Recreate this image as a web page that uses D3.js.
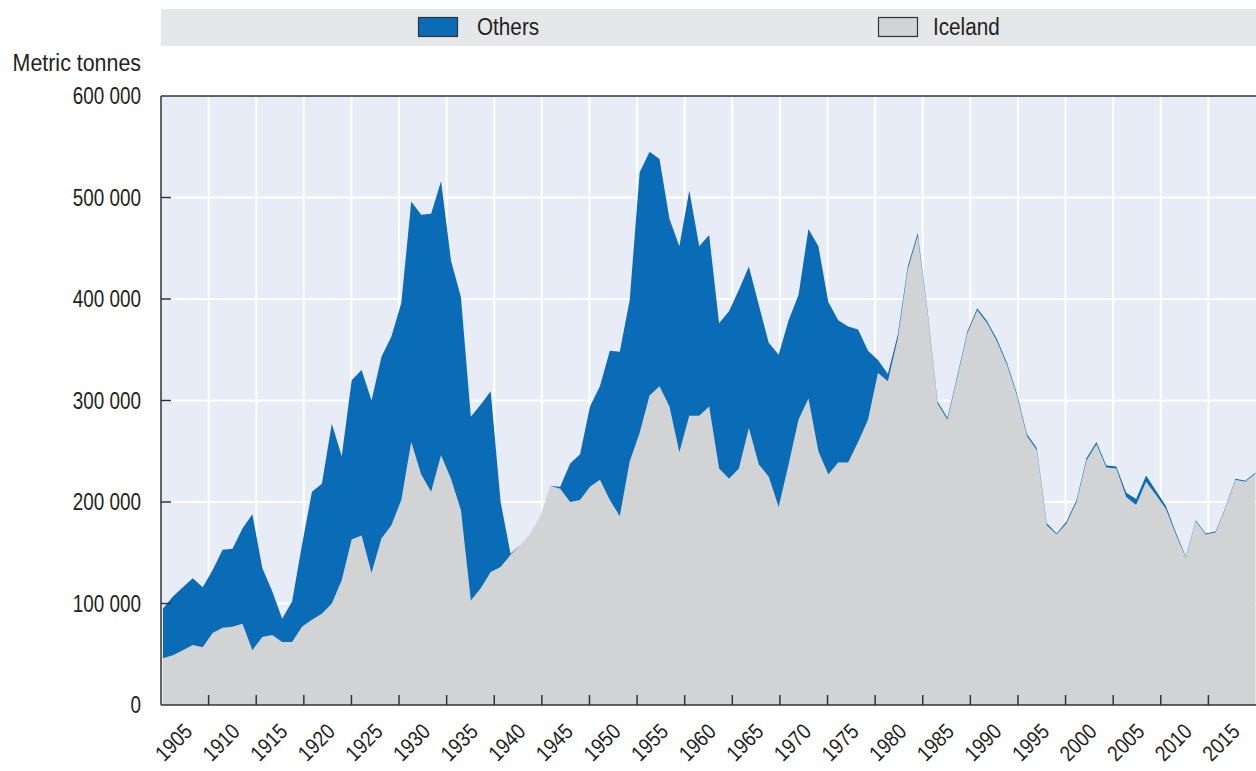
<!DOCTYPE html>
<html>
<head>
<meta charset="utf-8">
<script src="https://cdn.jsdelivr.net/npm/d3@7"></script>
<style>
	body { margin: 0; background: #fff; }
	text { font-family: "Liberation Sans", Arial, sans-serif; fill: #231f20; }
</style>
</head>
<body>
<script>
// years of catch data (one point per year)
let years = d3.range(1905, 2016);

// catches by Iceland, thousand metric tonnes, 1905-2015
let iceland = [
	46, 49, 54, 59, 57, 71, 76, 77, 80, 54,
	67, 69, 62, 62, 77, 84, 90, 100, 123, 163,
	167, 130, 164, 177, 202, 259, 227, 210, 246, 223,
	192, 103, 115, 131, 136, 148, 158, 169, 186, 216,
	213, 200, 202, 215, 222, 202, 186, 240, 268, 305,
	314, 294, 249, 285, 285, 294, 233, 223, 233, 273,
	237, 225, 195, 237, 281, 302, 250, 227, 239, 239,
	259, 281, 327, 319, 361, 429, 462, 386, 297, 281,
	323, 366, 389, 376, 358, 335, 305, 265, 251, 177,
	168, 179, 200, 241, 257, 234, 233, 205, 197, 220,
	207, 193, 168, 145, 181, 168, 170, 194, 222, 220,
	228
];

// catches by other countries, thousand metric tonnes, 1905-2015
let others = [
	49, 58, 62, 66, 59, 62, 77, 77, 94, 134,
	68, 43, 23, 40, 81, 126, 128, 177, 122, 157,
	163, 170, 179, 186, 194, 237, 256, 274, 270, 215,
	210, 181, 181, 178, 64, 1, 0, 0, 0, 0,
	2, 38, 45, 79, 92, 147, 162, 159, 257, 240,
	224, 185, 203, 222, 167, 169, 143, 165, 176, 159,
	157, 132, 150, 142, 123, 167, 202, 170, 140, 134,
	111, 68, 13, 7, 4, 3, 3, 2, 2, 2,
	2, 2, 2, 2, 2, 2, 2, 2, 2, 2,
	1, 2, 2, 2, 2, 2, 2, 4, 6, 6,
	4, 3, 2, 1, 1, 1, 1, 1, 1, 1,
	1
];

let tickLabels = ["1905", "1910", "1915", "1920", "1925", "1930", "1935", "1940", "1945", "1950", "1955", "1960",
	"1965", "1970", "1975", "1980", "1985", "1990", "1995", "2000", "2005", "2010", "2015"];
let yTicks = [0, 100000, 200000, 300000, 400000, 500000, 600000];

let keys = ["iceland", "others"];
let legendNames = { others: "Others", iceland: "Iceland" };
let colors = { others: "#0a6cb6", iceland: "#d1d3d4" };

let svg = d3.select("body").append("svg")
	.attr("width", 1256)
	.attr("height", 771);

let margin = { top: 96, right: 0, bottom: 66, left: 161 };
let innerWidth = +svg.attr("width") - margin.left - margin.right;
let innerHeight = +svg.attr("height") - margin.top - margin.bottom;

let fontSize = 23;

//squeeze a text horizontally so it looks like a narrow font
function narrowText(sel, factor) {
	sel.each(function() {
		let w = this.getComputedTextLength();
		d3.select(this)
			.attr("textLength", w * factor)
			.attr("lengthAdjust", "spacingAndGlyphs");
	});
}

let data = years.map((yr, i) => ({ year: yr, iceland: iceland[i] * 1000, others: others[i] * 1000 }));
let series = d3.stack().keys(keys)(data);

let x = d3.scaleLinear().domain([1905, 2015]).range([2, innerWidth - 0.7]);
// the category axis of the original is laid out on its own grid
let xAxisScale = d3.scaleLinear().domain([1900, 2015]).range([0, innerWidth]);
let y = d3.scaleLinear().domain([0, 600000]).range([innerHeight, 0]);

//legend band
let legend = svg.append("g");
legend.append("rect")
	.attr("x", margin.left).attr("y", 9)
	.attr("width", innerWidth).attr("height", 37)
	.attr("fill", "#e6e7e8");

let legendItems = [{ key: "others", x: 418 }, { key: "iceland", x: 878 }];
legend.selectAll("rect.swatch").data(legendItems).enter().append("rect")
	.attr("x", d => d.x + 0.5).attr("y", 17.5)
	.attr("width", 39).attr("height", 19)
	.attr("fill", d => colors[d.key])
	.attr("stroke", "#333").attr("stroke-width", 1.2);
legend.selectAll("text").data(legendItems).enter().append("text")
	.attr("x", d => d.x + (d.key == "others" ? 59 : 55))
	.attr("y", 27)
	.attr("dy", "0.36em")
	.attr("font-size", fontSize)
	.text(d => legendNames[d.key])
	.call(narrowText, 0.9);

svg.append("text")
	.attr("x", 141).attr("y", 63)
	.attr("dy", "0.36em")
	.attr("text-anchor", "end")
	.attr("font-size", fontSize)
	.text("Metric tonnes")
	.call(narrowText, 0.93);

let g = svg.append("g")
	.attr("transform", `translate(${margin.left}, ${margin.top})`);

g.append("clipPath").attr("id", "plot-clip")
	.append("rect").attr("width", innerWidth).attr("height", innerHeight);

g.append("rect")
	.attr("width", innerWidth).attr("height", innerHeight)
	.attr("fill", "#e8ecf6");

//grid
let xTickYears = tickLabels.map(Number).filter(yr => xAxisScale(yr) < innerWidth - 5);
g.selectAll("line.vgrid").data(xTickYears).enter().append("line")
	.attr("x1", d => xAxisScale(d)).attr("x2", d => xAxisScale(d))
	.attr("y1", 0).attr("y2", innerHeight)
	.attr("stroke", "#fff").attr("stroke-width", 2);
g.selectAll("line.hgrid").data(yTicks.slice(1, -1)).enter().append("line")
	.attr("x1", 0).attr("x2", innerWidth)
	.attr("y1", d => y(d)).attr("y2", d => y(d))
	.attr("stroke", "#fff").attr("stroke-width", 2);

//stacked areas
let area = d3.area()
	.x(d => x(d.data.year))
	.y0(d => y(d[0]))
	.y1(d => y(d[1]));

g.append("g").attr("clip-path", "url(#plot-clip)")
	.selectAll("path").data(series).enter().append("path")
	.attr("d", area)
	.attr("fill", d => colors[d.key]);

//axes
let axisColor = "#333";
g.append("line").attr("x1", 0).attr("x2", 0).attr("y1", 0).attr("y2", innerHeight)
	.attr("stroke", axisColor).attr("stroke-width", 1.5);
g.append("line").attr("x1", 0).attr("x2", innerWidth).attr("y1", 0).attr("y2", 0)
	.attr("stroke", axisColor).attr("stroke-width", 1.5);
g.append("line").attr("x1", 0).attr("x2", innerWidth).attr("y1", innerHeight).attr("y2", innerHeight)
	.attr("stroke", axisColor).attr("stroke-width", 1.5);

g.selectAll("line.ytick").data(yTicks.slice(1, -1)).enter().append("line")
	.attr("x1", 0).attr("x2", 10)
	.attr("y1", d => y(d)).attr("y2", d => y(d))
	.attr("stroke", axisColor).attr("stroke-width", 1.5);
g.selectAll("line.xtick").data(xTickYears).enter().append("line")
	.attr("x1", d => xAxisScale(d)).attr("x2", d => xAxisScale(d))
	.attr("y1", innerHeight - 10).attr("y2", innerHeight)
	.attr("stroke", axisColor).attr("stroke-width", 1.5);

let fmt = d => d3.format(",")(d).replace(/,/g, " ");
g.selectAll("text.ylab").data(yTicks).enter().append("text")
	.attr("x", -20)
	.attr("y", d => y(d))
	.attr("dy", "0.36em")
	.attr("text-anchor", "end")
	.attr("font-size", fontSize)
	.text(fmt)
	.call(narrowText, 0.82);

// rotated year labels
let labelX = d => xAxisScale(+d) - 15;
let labelY = innerHeight + 28;
g.selectAll("text.xlab").data(tickLabels).enter().append("text")
	.attr("x", labelX)
	.attr("y", labelY)
	.attr("transform", d => `rotate(-45, ${labelX(d)}, ${labelY})`)
	.attr("text-anchor", "end")
	.attr("font-size", 22)
	.text(d => d)
	.call(narrowText, 0.85);
</script>
</body>
</html>
